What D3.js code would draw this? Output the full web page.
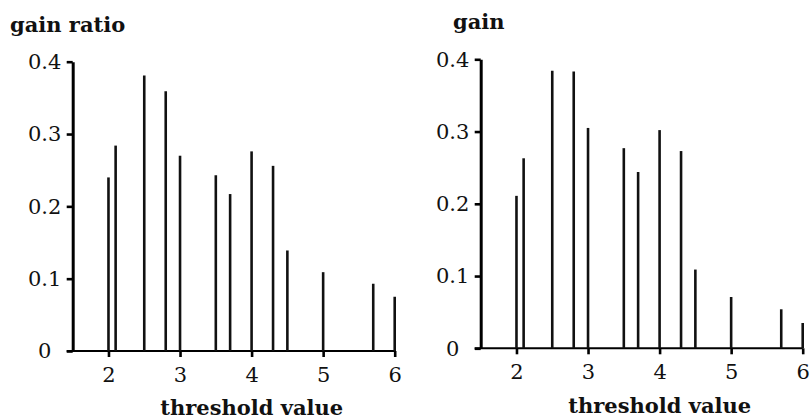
<!DOCTYPE html>
<html>
<head>
<meta charset="utf-8">
<script src="https://cdn.jsdelivr.net/npm/d3@7"></script>
<style>
    body { margin: 0; background: #fff; }
    svg { display: block; }
    .tick text { font-family: "DejaVu Serif", serif; font-size: 21px; fill: #111; }
    .title { font-family: "DejaVu Serif", serif; font-weight: bold; font-size: 21px; fill: #111; }
</style>
</head>
<body>
<div id="chart"></div>
<script>
// threshold values shared by both panels
const thresholds = [2.0, 2.1, 2.5, 2.8, 3.0, 3.5, 3.7, 4.0, 4.3, 4.5, 5.0, 5.7, 6.0];
const gainRatio = [0.240, 0.284, 0.381, 0.359, 0.270, 0.243, 0.217, 0.276, 0.256, 0.139, 0.109, 0.093, 0.075];
const gain = [0.211, 0.263, 0.384, 0.383, 0.305, 0.277, 0.244, 0.302, 0.273, 0.109, 0.071, 0.054, 0.035];
const xTicks = [2, 3, 4, 5, 6];
const yTicks = [0, 0.1, 0.2, 0.3, 0.4];
const panelTitles = ["gain ratio", "gain"];
const xLabel = "threshold value";

const width = 811, height = 419;

const svg = d3.select("#chart")
    .append("svg")
    .attr("width", width)
    .attr("height", height);

function panel(values, title, box) {
    const g = svg.append("g");

    const x = d3.scaleLinear()
        .domain([1.5, 6])
        .range([box.left, box.right]);

    const y = d3.scaleLinear()
        .domain([0, 0.4])
        .range([box.bottom, box.top]);

    // x axis, its base line runs a little past the y axis
    const xAxis = g.append("g")
        .attr("transform", `translate(0,${box.bottom})`)
        .call(d3.axisBottom(x).tickValues(xTicks).tickSize(6).tickSizeOuter(0).tickPadding(10)
            .tickFormat(d3.format("d")));
    xAxis.select(".domain").remove();
    xAxis.selectAll(".tick line")
        .attr("stroke", "#000")
        .attr("stroke-width", 2.6);

    g.append("line")
        .attr("x1", x(1.5) - 6)
        .attr("x2", x(6))
        .attr("y1", box.bottom)
        .attr("y2", box.bottom)
        .attr("stroke", "#000")
        .attr("stroke-width", 2);

    // y axis, labels centred in the margin
    const yAxis = g.append("g")
        .attr("transform", `translate(${box.left},0)`)
        .call(d3.axisLeft(y).tickValues(yTicks).tickSize(6).tickSizeOuter(0)
            .tickFormat(function(d) { return d === 0 ? "0" : d3.format(".1f")(d); }));
    yAxis.select(".domain")
        .attr("stroke", "#000")
        .attr("stroke-width", 3);
    yAxis.selectAll(".tick line")
        .attr("stroke", "#000")
        .attr("stroke-width", 2.6);
    yAxis.selectAll(".tick text")
        .attr("text-anchor", "middle")
        .attr("x", -28);

    g.selectAll(".spike")
        .data(thresholds.map(function(t, i) { return { t: t, v: values[i] }; }))
        .enter().append("line")
        .attr("class", "spike")
        .attr("x1", function(d) { return x(d.t); })
        .attr("x2", function(d) { return x(d.t); })
        .attr("y1", y(0))
        .attr("y2", function(d) { return y(d.v); })
        .attr("stroke", "#111")
        .attr("stroke-width", 2.6);

    g.append("text")
        .attr("class", "title")
        .attr("x", box.titleX)
        .attr("y", box.titleY)
        .text(title);

    g.append("text")
        .attr("class", "title")
        .attr("text-anchor", "middle")
        .attr("x", (x(1.5) + x(6)) / 2 + 18)
        .attr("y", box.labelY)
        .text(xLabel);
}

panel(gainRatio, panelTitles[0], { left: 72.7, right: 394.7, top: 61.7, bottom: 351, titleX: 10, titleY: 32, labelY: 415 });
panel(gain, panelTitles[1], { left: 480.7, right: 802.7, top: 59.3, bottom: 348.3, titleX: 453, titleY: 29, labelY: 413 });
</script>
</body>
</html>
